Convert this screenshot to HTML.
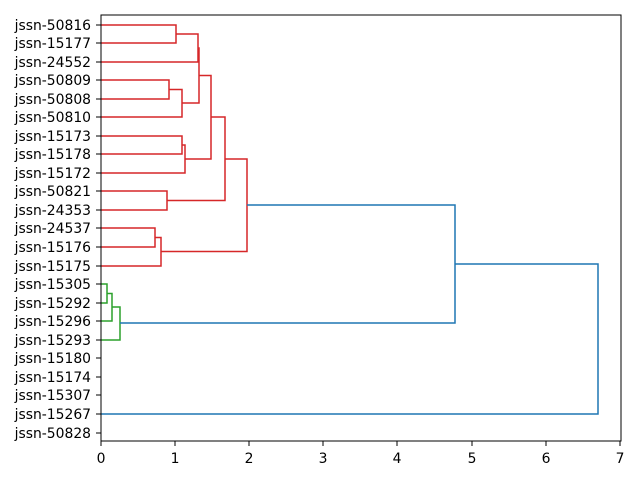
<!DOCTYPE html>
<html><head><meta charset="utf-8"><style>body{margin:0;background:#fff}svg{display:block}</style></head><body>
<svg width="640" height="480" xmlns="http://www.w3.org/2000/svg" font-family="DejaVu Sans, Liberation Sans, sans-serif" font-size="13.9">
<g fill="none" stroke-width="1.5">
<g stroke="#d62728">
<path d="M101 25H176V43H101"/>
<path d="M176 34H198V62H101"/>
<path d="M101 80H169V99H101"/>
<path d="M169 89.5H182V117H101"/>
<path d="M198 48H199V103H182"/>
<path d="M101 136H182V154H101"/>
<path d="M182 145H185V173H101"/>
<path d="M199 75.5H211V159H185"/>
<path d="M101 191H167V210H101"/>
<path d="M211 117H225V200.5H167"/>
<path d="M101 228H155V247H101"/>
<path d="M155 237.5H161V266H101"/>
<path d="M225 159H247V251.5H161"/>
</g>
<g stroke="#2ca02c">
<path d="M101 284H107V303H101"/>
<path d="M107 293.5H112V321H101"/>
<path d="M112 307H120V340H101"/>
</g>
<g stroke="#1f77b4">
<path d="M247 205H455V323H120"/>
<path d="M455 264H598V414H101"/>
</g>
</g>
<rect x="101" y="15" width="520" height="426" fill="none" stroke="#000" stroke-width="1"/>
<g stroke="#000" stroke-width="1">
<path d="M101 441v5M175 441v5M249 441v5M323 441v5M397 441v5M472 441v5M546 441v5M620 441v5"/>
<path d="M101 25h-5M101 43h-5M101 62h-5M101 80h-5M101 99h-5M101 117h-5M101 136h-5M101 154h-5M101 173h-5M101 191h-5M101 210h-5M101 228h-5M101 247h-5M101 266h-5M101 284h-5M101 303h-5M101 321h-5M101 340h-5M101 358h-5M101 377h-5M101 395h-5M101 414h-5M101 433h-5"/>
</g>
<g text-anchor="middle" fill="#000">
<text x="101" y="463">0</text><text x="175" y="463">1</text><text x="249" y="463">2</text><text x="323" y="463">3</text><text x="397" y="463">4</text><text x="472" y="463">5</text><text x="546" y="463">6</text><text x="620" y="463">7</text>
</g>
<g text-anchor="end" fill="#000">
<text x="91" y="30">jssn-50816</text><text x="91" y="48">jssn-15177</text><text x="91" y="67">jssn-24552</text><text x="91" y="85">jssn-50809</text><text x="91" y="104">jssn-50808</text><text x="91" y="122">jssn-50810</text><text x="91" y="141">jssn-15173</text><text x="91" y="159">jssn-15178</text><text x="91" y="178">jssn-15172</text><text x="91" y="196">jssn-50821</text><text x="91" y="215">jssn-24353</text><text x="91" y="233">jssn-24537</text><text x="91" y="252">jssn-15176</text><text x="91" y="271">jssn-15175</text><text x="91" y="289">jssn-15305</text><text x="91" y="308">jssn-15292</text><text x="91" y="326">jssn-15296</text><text x="91" y="345">jssn-15293</text><text x="91" y="363">jssn-15180</text><text x="91" y="382">jssn-15174</text><text x="91" y="400">jssn-15307</text><text x="91" y="419">jssn-15267</text><text x="91" y="438">jssn-50828</text>
</g>
</svg>
</body></html>
